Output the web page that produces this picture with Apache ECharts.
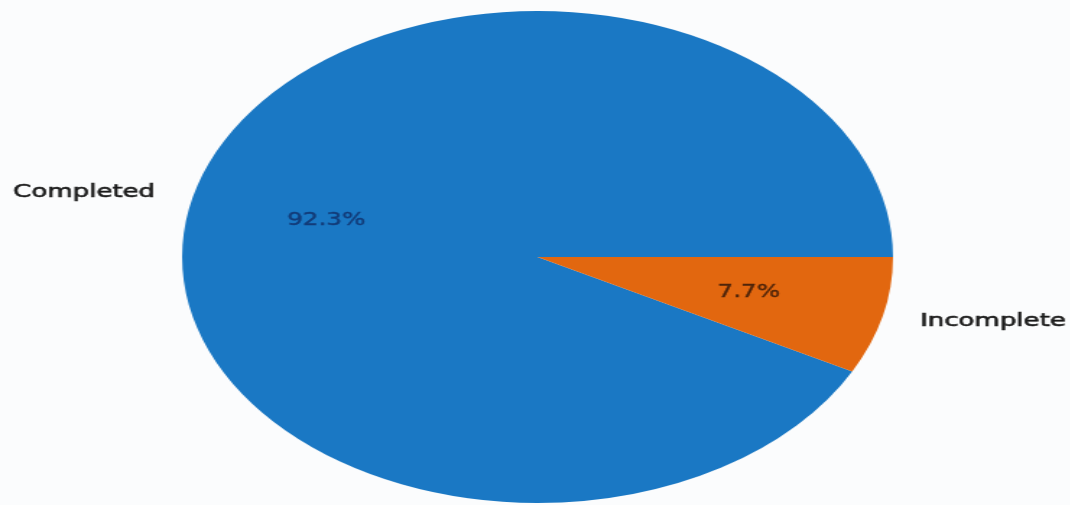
<!DOCTYPE html>
<html>
<head>
<meta charset="utf-8">
<script src="https://cdn.jsdelivr.net/npm/echarts@6/dist/echarts.min.js"></script>
<style>
  html, body { margin: 0; padding: 0; background: #fbfcfd; overflow: hidden; width: 1070px; height: 505px; }
  #chart { width: 740px; height: 505px; transform: scaleX(1.445); transform-origin: 0 0; }
</style>
</head>
<body>
<div id="chart"></div>
<script>
const categories = ['Completed', 'Incomplete'];
const values = [92.3, 7.7];
const colors = ['#1a78c4', '#e2670f'];
const pctColors = ['#123b78', '#4e240a'];

const chart = echarts.init(document.getElementById('chart'));
const R = 246;
const center = [372, 257];

const nameData = categories.map((c, i) => ({ name: c, value: values[i], itemStyle: { color: colors[i] } }));
const pctData = categories.map((c, i) => ({
  name: c, value: values[i],
  label: { color: pctColors[i], textBorderColor: pctColors[i] }
}));

chart.setOption({
  backgroundColor: '#fbfcfd',
  animation: false,
  series: [
    {
      type: 'pie',
      center: center,
      radius: [0, R],
      startAngle: 0,
      clockwise: false,
      avoidLabelOverlap: false,
      percentPrecision: 1,
      data: nameData,
      label: {
        show: true,
        position: 'outside',
        formatter: '{b}',
        fontFamily: 'DejaVu Sans',
        fontSize: 18,
        color: '#1a1a1a',
        textBorderColor: '#1a1a1a',
        textBorderWidth: 0.6,
        distanceToLabelLine: 2
      },
      labelLine: { show: false, length: R * 0.1, length2: 0 },
      emphasis: { disabled: true }
    },
    {
      type: 'pie',
      center: center,
      radius: [R * 0.2, R],
      startAngle: 0,
      clockwise: false,
      avoidLabelOverlap: false,
      percentPrecision: 1,
      silent: true,
      data: pctData,
      itemStyle: { color: 'rgba(0,0,0,0)' },
      label: {
        show: true,
        position: 'inside',
        formatter: '{d}%',
        fontFamily: 'DejaVu Sans',
        fontSize: 17,
        textBorderWidth: 0.4
      },
      labelLine: { show: false },
      emphasis: { disabled: true }
    }
  ]
});
</script>
</body>
</html>
